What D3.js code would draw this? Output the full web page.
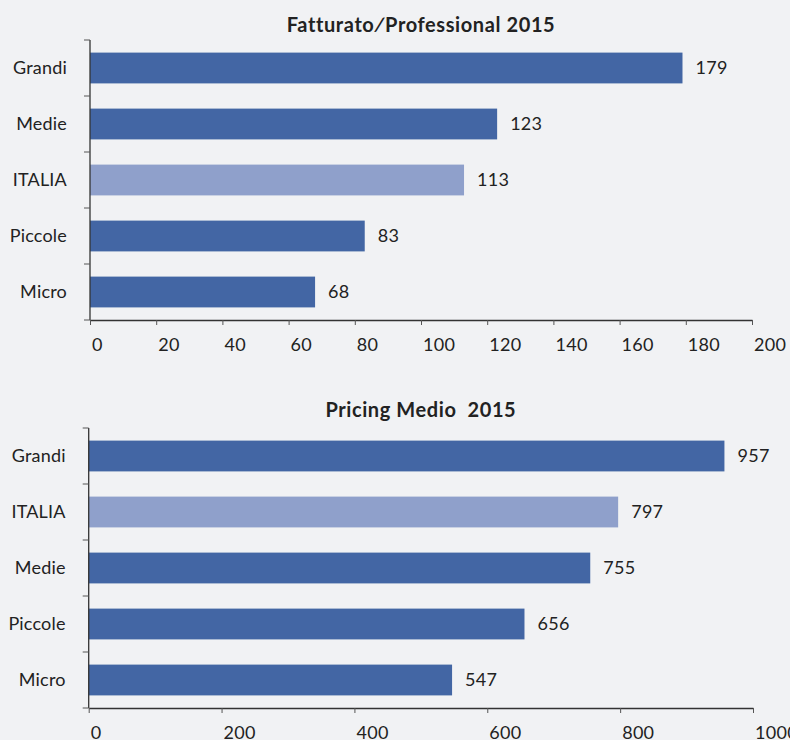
<!DOCTYPE html>
<html>
<head>
<meta charset="utf-8">
<script src="https://cdn.jsdelivr.net/npm/d3@7/dist/d3.min.js"></script>
<style>
  html, body { margin: 0; padding: 0; background: #f1f2f4; }
  svg { display: block; }
  text { font-family: Lato, "Open Sans", sans-serif; fill: #222; }
</style>
</head>
<body>
<svg id="chart" width="790" height="740"></svg>
<script>
// Fatturato / Professional 2015
const revenueTitle = "Fatturato\u2215Professional 2015";
const revenueCategories = ["Grandi", "Medie", "ITALIA", "Piccole", "Micro"];
const revenueValues = [179, 123, 113, 83, 68];
const revenueTicks = [0, 20, 40, 60, 80, 100, 120, 140, 160, 180, 200];

// Pricing Medio 2015
const pricingTitle = "Pricing Medio\u00a0 2015";
const pricingCategories = ["Grandi", "ITALIA", "Medie", "Piccole", "Micro"];
const pricingValues = [957, 797, 755, 656, 547];
const pricingTicks = [0, 200, 400, 600, 800, 1000];

const highlight = "ITALIA";
const barColor = "#4366a4";
const highlightColor = "#8fa0cb";
const labelSize = "18px";

const svg = d3.select("#chart");

function drawPanel(cfg) {
  const g = svg.append("g");
  const x = d3.scaleLinear().domain([0, cfg.max]).range([cfg.left, cfg.right]);
  const y = d3.scaleBand().domain(cfg.categories)
    .range([cfg.top, cfg.bottom]).paddingInner(0.45).paddingOuter(0.225);

  // title
  g.append("text")
    .attr("x", (cfg.left + cfg.right) / 2)
    .attr("y", cfg.titleY)
    .attr("text-anchor", "middle")
    .style("font-size", "20px")
    .style("font-weight", "700")
    .style("letter-spacing", "0.6px")
    .text(cfg.title);

  const rows = cfg.categories.map((c, i) => ({ c, v: cfg.values[i] }));

  // bars
  g.selectAll("rect.bar")
    .data(rows)
    .join("rect")
    .attr("class", "bar")
    .attr("x", x(0))
    .attr("y", d => y(d.c))
    .attr("width", d => x(d.v) - x(0))
    .attr("height", y.bandwidth())
    .attr("fill", d => d.c === highlight ? highlightColor : barColor);

  // value labels
  g.selectAll("text.val")
    .data(rows)
    .join("text")
    .attr("class", "val")
    .attr("x", d => x(d.v) + 13)
    .attr("y", d => y(d.c) + y.bandwidth() / 2)
    .attr("dy", "0.36em")
    .style("font-size", labelSize)
    .style("letter-spacing", "0.3px")
    .text(d => d.v);

  // x axis
  const xAxis = d3.axisBottom(x).tickValues(cfg.ticks).tickSize(5).tickSizeOuter(0)
    .tickFormat(d3.format("d"));
  const ax = g.append("g").attr("transform", `translate(0,${cfg.bottom})`).call(xAxis);
  ax.select(".domain").attr("stroke", "#333").attr("stroke-width", 1.3);
  ax.selectAll(".tick line").attr("stroke", "#555");
  ax.selectAll(".tick text")
    .attr("text-anchor", "start")
    .attr("x", 1.5)
    .attr("y", 18)
    .attr("dy", "0.72em")
    .style("font-size", labelSize)
    .style("letter-spacing", "0.3px")
    .style("font-family", "Lato, 'Open Sans', sans-serif")
    .attr("fill", "#222");

  // y axis: line with ticks at band boundaries
  const step = y.step();
  const bounds = d3.range(cfg.categories.length + 1).map(i => cfg.top + i * step);
  g.append("line")
    .attr("x1", cfg.left).attr("x2", cfg.left)
    .attr("y1", cfg.top).attr("y2", cfg.bottom)
    .attr("stroke", "#333").attr("stroke-width", 1.3);
  g.selectAll("line.ytick").data(bounds).join("line")
    .attr("class", "ytick")
    .attr("x1", cfg.left - 6).attr("x2", cfg.left)
    .attr("y1", d => d).attr("y2", d => d)
    .attr("stroke", "#555");

  // category labels
  g.selectAll("text.cat").data(cfg.categories).join("text")
    .attr("class", "cat")
    .attr("x", cfg.left - 23)
    .attr("y", d => y(d) + y.bandwidth() / 2)
    .attr("dy", "0.36em")
    .attr("text-anchor", "end")
    .style("font-size", labelSize)
    .style("letter-spacing", "0.2px")
    .text(d => d);
}

drawPanel({
  title: revenueTitle, categories: revenueCategories, values: revenueValues,
  ticks: revenueTicks, max: 200,
  left: 90, right: 752, top: 40, bottom: 320, titleY: 32
});

drawPanel({
  title: pricingTitle, categories: pricingCategories, values: pricingValues,
  ticks: pricingTicks, max: 1000,
  left: 88.7, right: 753, top: 428, bottom: 708, titleY: 417
});
</script>
</body>
</html>
